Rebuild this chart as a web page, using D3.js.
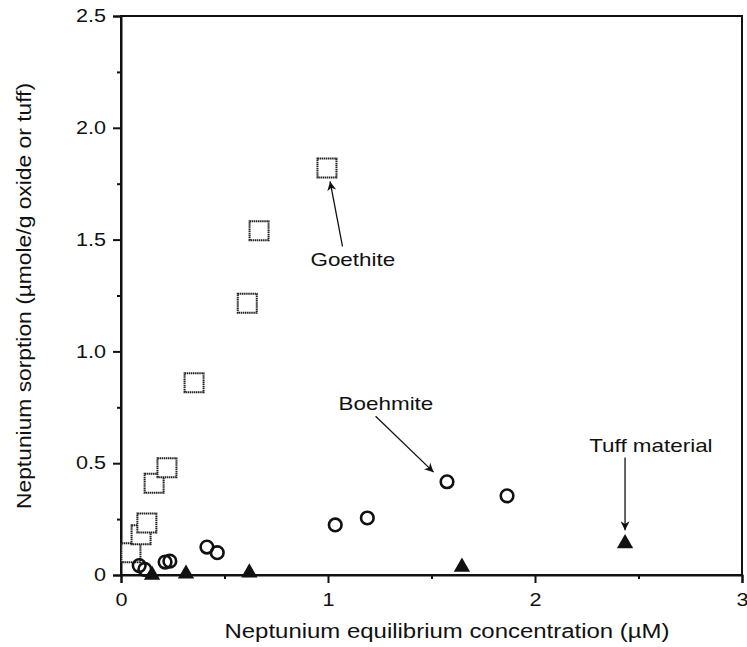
<!DOCTYPE html>
<html><head><meta charset="utf-8">
<script src="https://cdn.jsdelivr.net/npm/d3@7"></script>
<style>body{margin:0;background:#fff}svg{display:block}text{font-family:"Liberation Sans",Arial,sans-serif;fill:#111}</style>
</head><body>
<script>
const goethiteX = [0.048,0.097,0.125,0.16,0.222,0.353,0.61,0.667,0.995];
const goethiteY = [0.10,0.18,0.233,0.41,0.48,0.86,1.215,1.54,1.82];
const boehmiteX = [0.088,0.115,0.213,0.236,0.415,0.465,1.035,1.19,1.575,1.865];
const boehmiteY = [0.042,0.025,0.058,0.062,0.125,0.10,0.224,0.255,0.417,0.354];
const tuffX = [0.15,0.314,0.62,1.647,2.435];
const tuffY = [0.0,0.005,0.01,0.036,0.141];
const xTicks = [0,1,2,3];
const xTickLabels = ["0","1","2","3"];
const yTicks = [0,0.5,1.0,1.5,2.0,2.5];
const yTickLabels = ["0","0.5","1.0","1.5","2.0","2.5"];
const xTitle = "Neptunium equilibrium concentration (\u00B5M)";
const yTitle = "Neptunium sorption (\u00B5mole/g oxide or tuff)";

const W=747,H=647;
const svg=d3.select("body").append("svg").attr("width",W).attr("height",H);
const x=d3.scaleLinear().domain([0,3]).range([121,742]);
const y=d3.scaleLinear().domain([0,2.5]).range([575,16]);

function stretch(sel,f){sel.each(function(){const n=this.getComputedTextLength();
  d3.select(this).attr("textLength",n*f).attr("lengthAdjust","spacingAndGlyphs");});}

// frame
svg.append("rect").attr("x",x(0)).attr("y",y(2.5)).attr("width",x(3)-x(0)).attr("height",y(0)-y(2.5))
  .attr("fill","none").attr("stroke","#111").attr("stroke-width",2);

// axes
const xAxis=d3.axisBottom(x).tickValues(xTicks).tickFormat((d,i)=>xTickLabels[i]).tickSize(8).tickPadding(10);
const gx=svg.append("g").attr("transform",`translate(0,${y(0)})`).call(xAxis);
const yAxis=d3.axisLeft(y).tickValues(yTicks).tickFormat((d,i)=>yTickLabels[i]).tickSize(8).tickPadding(7);
const gy=svg.append("g").attr("transform",`translate(${x(0)},0)`).call(yAxis);
[gx,gy].forEach(g=>{g.select(".domain").attr("stroke","#111").attr("stroke-width",2);
  g.selectAll(".tick line").attr("stroke","#111").attr("stroke-width",2);
  g.selectAll(".tick text").attr("font-size",18).attr("fill","#111").attr("font-family","Liberation Sans, Arial, sans-serif");
  stretch(g.selectAll(".tick text"),1.2);});
// minor ticks
const gxm=svg.append("g").attr("transform",`translate(0,${y(0)})`).call(d3.axisBottom(x).tickValues([0.5,1.5,2.5]).tickFormat("").tickSize(4));
const gym=svg.append("g").attr("transform",`translate(${x(0)},0)`).call(d3.axisLeft(y).tickValues([0.25,0.75,1.25,1.75,2.25]).tickFormat("").tickSize(4));
[gxm,gym].forEach(g=>{g.select(".domain").remove();g.selectAll(".tick line").attr("stroke","#111").attr("stroke-width",2);});

// titles
svg.append("text").attr("x",447).attr("y",638).attr("text-anchor","middle").attr("font-size",19.5)
  .attr("textLength",445).attr("lengthAdjust","spacingAndGlyphs").text(xTitle);
svg.append("text").attr("transform",`translate(31,296) rotate(-90)`).attr("text-anchor","middle").attr("font-size",19.5)
  .attr("textLength",426).attr("lengthAdjust","spacingAndGlyphs").text(yTitle);

// data
const gData=d3.zip(goethiteX,goethiteY), bData=d3.zip(boehmiteX,boehmiteY), tData=d3.zip(tuffX,tuffY);
const sq=19;
svg.append("g").selectAll("rect").data(gData).join("rect")
  .attr("x",d=>x(d[0])-sq/2).attr("y",d=>y(d[1])-sq/2).attr("width",sq).attr("height",sq)
  .attr("fill","#fff").attr("stroke","#222").attr("stroke-width",2).attr("stroke-dasharray","1.5,0.6");
svg.append("g").selectAll("circle").data(bData).join("circle")
  .attr("cx",d=>x(d[0])).attr("cy",d=>y(d[1])).attr("r",6.3)
  .attr("fill","none").attr("stroke","#111").attr("stroke-width",2.6);
const tri=d3.symbol().type(d3.symbolTriangle).size(115);
svg.append("g").selectAll("path").data(tData).join("path")
  .attr("transform",d=>`translate(${x(d[0])},${y(d[1])})`).attr("d",tri).attr("fill","#111");

// annotations
const defs=svg.append("defs");
defs.append("marker").attr("id","ah").attr("viewBox","0 0 10 10").attr("refX",10).attr("refY",5)
  .attr("markerWidth",18).attr("markerHeight",9).attr("markerUnits","userSpaceOnUse").attr("orient","auto")
  .append("path").attr("d","M0,0 L10,5 L0,10 L3,5 Z").attr("fill","#111");
function note(label,tx,ty,from,to){
  const t=svg.append("text").attr("x",x(tx)).attr("y",y(ty)).attr("text-anchor","middle").attr("font-size",19).text(label);
  stretch(t,1.18);
  svg.append("line").attr("x1",x(from[0])).attr("y1",y(from[1])).attr("x2",x(to[0])).attr("y2",y(to[1]))
    .attr("stroke","#111").attr("stroke-width",1.3).attr("marker-end","url(#ah)");
}
note("Goethite",1.12,1.38,[1.07,1.47],[1.01,1.76]);
note("Boehmite",1.28,0.74,[1.23,0.71],[1.51,0.46]);
note("Tuff material",2.56,0.55,[2.435,0.525],[2.435,0.2]);
</script>
</body></html>
